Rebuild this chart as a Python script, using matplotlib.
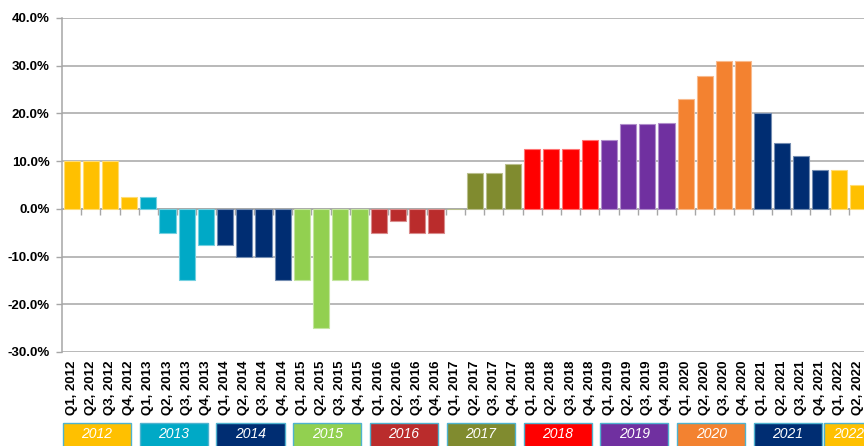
import matplotlib
matplotlib.use("Agg")
import matplotlib.pyplot as plt
import matplotlib.transforms as mtransforms
from matplotlib.colors import to_rgb
from matplotlib.patches import Rectangle
from matplotlib.ticker import FuncFormatter, MultipleLocator

plt.rcParams["font.family"] = ["Liberation Sans", "DejaVu Sans"]

# Quarterly change, Q1 2012 .. Q2 2022
years = [2012, 2013, 2014, 2015, 2016, 2017, 2018, 2019, 2020, 2021, 2022]
year_colors = ["#FFC000", "#00A9C6", "#002D72", "#92D050", "#BA2C2C", "#808B2F",
               "#FF0000", "#7030A0", "#F38230", "#002D72", "#FFC000"]
quarter_labels = [f"Q{q}, {y}" for y in years for q in range(1, 5)][:42]
values = [
    10, 10, 10, 2.5,
    2.5, -5, -15, -7.5,
    -7.5, -10, -10, -15,
    -15, -25, -15, -15,
    -5, -2.5, -5, -5,
    0, 7.5, 7.5, 9.5,
    12.5, 12.5, 12.5, 14.5,
    14.5, 17.75, 17.75, 18,
    23, 27.8, 31, 31,
    20, 13.9, 11, 8.1,
    8.1, 5,
]


def lighten(c, f=0.45):
    r, g, b = to_rgb(c)
    return (r + (1 - r) * f, g + (1 - g) * f, b + (1 - b) * f)


x = list(range(len(values)))
bar_colors = [year_colors[i // 4] for i in x]

fig = plt.figure(figsize=(8.64, 4.46), dpi=100)
ax = fig.add_axes([62 / 864, 1 - 352 / 446, 806 / 864, 334 / 446])

ax.bar(x, values, width=0.84, color=bar_colors,
       edgecolor=[lighten(c) for c in bar_colors], linewidth=0.8, zorder=3)

ax.set_xlim(-0.5, 41.5)
ax.set_ylim(-30, 40)
ax.yaxis.set_major_locator(MultipleLocator(10))
ax.yaxis.set_major_formatter(FuncFormatter(lambda v, _: f"{v:.1f}%"))
ax.grid(axis="y", color="#A6A6A6", linewidth=1.1, zorder=0)

for side in ["top", "right", "bottom"]:
    ax.spines[side].set_visible(False)
ax.spines["left"].set_color("#A6A6A6")
ax.spines["left"].set_linewidth(1.1)

ax.set_xticks(x)
ax.set_xticklabels(quarter_labels, rotation=90, fontsize=9.5, fontweight="bold",
                   va="top", ha="center")
ax.tick_params(axis="x", length=0, pad=6)
ax.tick_params(axis="y", length=4, width=1, color="#A6A6A6", pad=5,
               labelsize=9.5)
for lbl in ax.get_yticklabels():
    lbl.set_fontweight("bold")

# zero line with category tick marks between bars
zero = ax.secondary_xaxis(30 / 70)
zero.spines["bottom"].set_color("#A6A6A6")
zero.spines["bottom"].set_linewidth(1.1)
zero.set_xticks([i + 0.5 for i in x[:-1]])
zero.set_xticklabels([])
zero.tick_params(length=4, width=1, color="#A6A6A6", direction="out")

# year legend boxes under the quarter labels
trans = mtransforms.blended_transform_factory(ax.transData, fig.transFigure)
for k, (yr, col) in enumerate(zip(years, year_colors)):
    n_q = min(4, len(values) - 4 * k)
    if n_q == 4:
        x0, w = 4 * k - 0.45, 3.55
    else:
        x0, w = 4 * k - 0.8, 2.6
    rect = Rectangle((x0, -0.05), w, 1 - 423 / 446 + 0.05, transform=trans,
                     facecolor=col, edgecolor="#4FB3CF", linewidth=1,
                     clip_on=False)
    fig.add_artist(rect)
    fig.text(x0 + w / 2, 1 - 434 / 446, str(yr), transform=trans,
             color="white", fontsize=10, fontstyle="italic",
             ha="center", va="center")

fig.savefig("out.png", dpi=100)
